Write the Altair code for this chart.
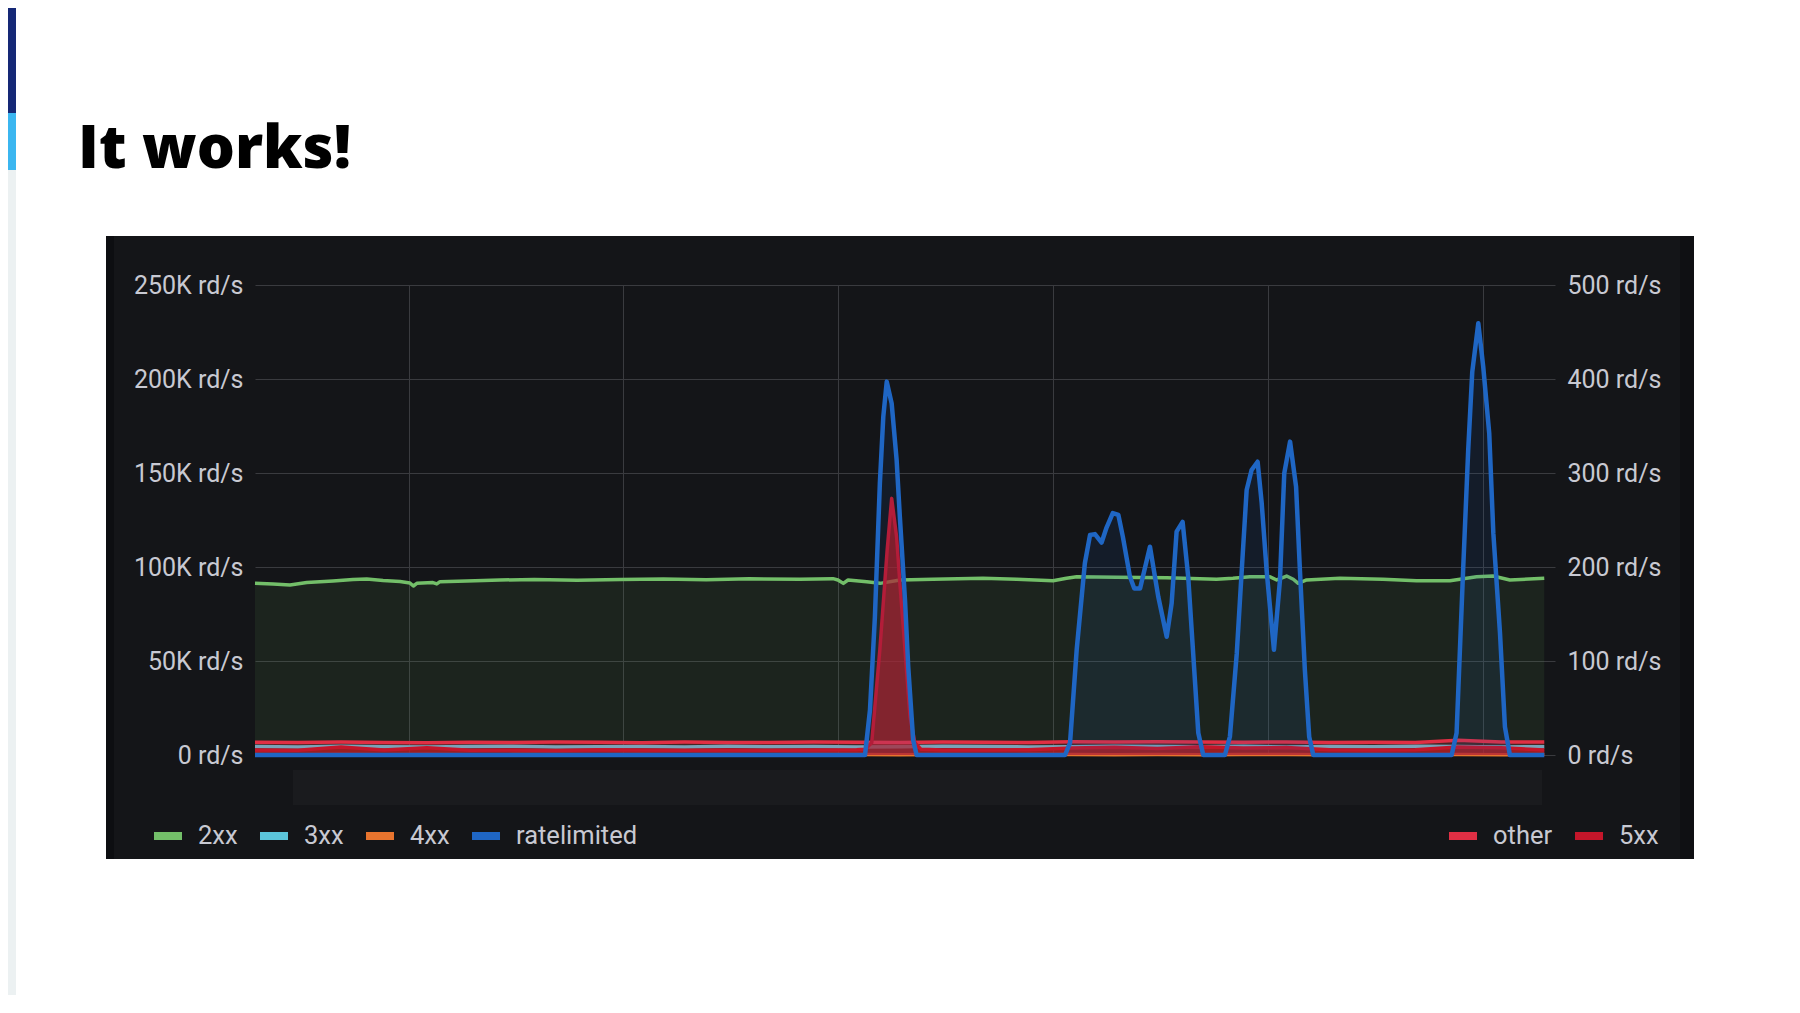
import altair as alt
import pandas as pd

# ---------------- data (time in minutes, left values in K rd/s, right values in rd/s) ----------------
green_t = [0, 0.84, 1.63, 2.41, 3.63, 4.56, 5.20, 5.96, 6.75, 7.21, 7.37, 7.53, 8.28, 8.46, 8.61, 9.85,
           11.40, 13.0, 15.0, 17.0, 19.0, 21.0, 23.0, 25.36, 26.90, 27.13, 27.38, 27.60, 28.47, 29.09,
           30.02, 31.55, 33.88, 35.45, 37.14, 37.77, 38.24, 40.10, 42.43, 44.75, 45.51, 46.30, 47.24,
           47.55, 48.01, 48.32, 48.55, 48.94, 50.49, 52.49, 54.06, 55.61, 56.08, 56.85, 57.62, 58.40, 60.0]
green_v = [91.4, 91.0, 90.4, 91.7, 92.6, 93.4, 93.6, 92.8, 92.3, 91.5, 89.9, 91.3, 91.7, 91.0, 92.2, 92.6,
           93.1, 93.3, 93.0, 93.4, 93.6, 93.2, 93.7, 93.5, 93.8, 93.1, 91.3, 93.1, 92.2, 91.3,
           93.1, 93.5, 94.0, 93.5, 92.7, 94.0, 94.8, 94.5, 94.3, 93.5, 94.0, 94.8, 94.8,
           93.1, 95.2, 93.5, 91.3, 93.1, 94.0, 93.5, 92.7, 92.7, 93.5, 94.8, 95.2, 93.1, 94.0]

base_t = [0, 2, 4, 6, 8, 10, 12, 14, 16, 18, 20, 22, 24, 26, 28, 30, 32, 34, 36, 38, 40, 42, 44, 46, 48,
          50, 52, 54, 56, 58, 60]
v_3xx = [4.5, 4.3, 4.6, 4.4, 4.2, 4.5, 4.6, 4.3, 4.4, 4.5, 4.3, 4.6, 4.4, 4.5, 4.2, 4.4, 4.6, 4.5, 4.3, 4.4,
         4.7, 4.5, 4.4, 4.6, 4.3, 4.5, 4.4, 4.6, 4.5, 4.3, 4.4]
v_4xx = [0.2, 0.1, 0.2, 0.1, 0.2, 0.1, 0.2, 0.2, 0.1, 0.2, 0.1, 0.2, 0.1, 0.2, 0.2, 0.1, 0.2, 0.1, 0.2, 0.2,
         0.1, 0.2, 0.1, 0.2, 0.2, 0.1, 0.2, 0.1, 0.2, 0.1, 0.2]
v_other = [13.5, 13.2, 13.8, 13.4, 12.9, 13.6, 13.3, 13.9, 13.5, 13.1, 13.7, 13.4, 13.2, 13.8, 13.6, 13.3,
           13.9, 13.5, 13.4, 14.0, 13.7, 14.2, 13.8, 13.5, 13.9, 13.3, 13.6, 13.4, 15.8, 13.7, 13.9]

t_5xx = [0, 2, 4, 6, 8, 10, 12, 14, 16, 18, 20, 22, 24, 26, 28, 28.4, 28.7, 29.08, 29.42, 29.63, 29.86,
         30.01, 30.25, 30.48, 30.71, 31.0, 32, 34, 36, 38, 40, 42, 44, 46, 48, 50, 52, 54, 56, 58, 60]
v_5xx = [5.2, 5.0, 8.5, 5.4, 7.8, 5.1, 5.3, 4.9, 5.6, 5.2, 5.0, 5.4, 5.1, 5.3, 5.5, 6.0, 13, 112, 218, 273,
         232, 183, 112, 41, 13, 6.0, 5.4, 5.2, 5.6, 7.5, 8.2, 7.0, 8.8, 7.4, 8.0, 5.6, 5.3, 5.5, 8.4, 7.6, 5.4]

rl_t = [0, 28.39, 28.62, 28.85, 29.08, 29.24, 29.40, 29.63, 29.86, 30.01, 30.25, 30.40, 30.63, 30.79,
        37.70, 37.93, 38.24, 38.62, 38.86, 39.09, 39.40, 39.63, 39.92, 40.18, 40.39, 40.72, 40.92, 41.19,
        41.65, 42.04, 42.43, 42.66, 42.89, 43.17, 43.43, 43.65, 43.90, 44.13, 45.14, 45.37, 45.69, 45.92,
        46.15, 46.38, 46.66, 46.85, 47.08, 47.42, 47.70, 47.90, 48.17, 48.45, 48.63, 48.86, 49.06, 49.25,
        55.69, 55.92, 56.23, 56.46, 56.65, 56.93, 57.16, 57.44, 57.63, 57.94, 58.17, 58.40, 60]
rl_v = [0, 0, 23.9, 73.6, 144.5, 180, 198.6, 187, 157, 126.8, 82.4, 47, 8, 0,
        0, 6.4, 56, 102, 117, 117.5, 113, 121, 128.7, 127.7, 116, 94.8, 88.6, 88.6,
        110.8, 84, 62.9, 80.8, 118.8, 124, 94.8, 56, 11.7, 0, 0, 9.7, 54, 98,
        141, 151.6, 156, 134, 98, 56, 93, 149.8, 166.7, 142.7, 98, 45, 9.7, 0,
        0, 11.7, 100, 162, 203.9, 229.6, 206.5, 171, 118, 64.9, 15, 0, 0]

left_series = ["2xx", "3xx", "4xx", "ratelimited"]
left_colors = ["#73bf69", "#5bc5da", "#e8742e", "#1f66c4"]
right_series = ["other", "5xx"]
right_colors = ["#e02f44", "#c4162a"]

left_ticks = [0, 50, 100, 150, 200, 250]
right_ticks = [0, 100, 200, 300, 400, 500]
x_grid = [7.15, 17.12, 27.13, 37.14, 47.15, 57.16]

# ---------------- frames ----------------
df_green = pd.DataFrame({"t": green_t, "v": green_v, "series": "2xx"})
df_left = pd.concat([
    pd.DataFrame({"t": base_t, "v": v_4xx, "series": "4xx"}),
    pd.DataFrame({"t": base_t, "v": v_3xx, "series": "3xx"}),
    df_green,
])
df_other = pd.DataFrame({"t": base_t, "v": v_other, "series": "other"})
df_5xx = pd.DataFrame({"t": t_5xx, "v": v_5xx, "series": "5xx"})
df_right = pd.concat([df_other, df_5xx])
df_rl = pd.DataFrame({"t": rl_t, "v": rl_v})

# ---------------- styling ----------------
BG = "#141518"
GRID = "#3a3b3f"
TXT = "#c8c9d2"
FONT = "Roboto"
W, H = 1300, 470

x_enc = alt.X("t:Q", scale=alt.Scale(domain=[0, 60.5], nice=False, zero=False),
              axis=alt.Axis(values=x_grid, grid=True, gridColor=GRID, gridWidth=1, labels=False,
                            ticks=False, domain=False, title=None))


def y_left(axis=True):
    ax = alt.Axis(orient="left", values=left_ticks, grid=True, gridColor=GRID, gridWidth=1,
                  domain=False, ticks=False, title=None, labelFont=FONT, labelFontSize=25,
                  labelColor=TXT, labelPadding=12,
                  labelExpr="datum.value == 0 ? '0 rd/s' : datum.value + 'K rd/s'") if axis else None
    return alt.Y("v:Q", scale=alt.Scale(domain=[0, 250], nice=False, zero=True), axis=ax)


y_right = alt.Y("v:Q", scale=alt.Scale(domain=[0, 500], nice=False, zero=True),
                axis=alt.Axis(orient="right", values=right_ticks, grid=False, domain=False, ticks=False,
                              title=None, labelFont=FONT, labelFontSize=25, labelColor=TXT,
                              labelPadding=12, labelExpr="datum.value + ' rd/s'"))

SWATCH = "M-1,0L1,0"


def legend(x):
    return alt.Legend(orient="none", legendX=x, legendY=533, direction="horizontal", title=None,
                      symbolType=SWATCH, symbolSize=784, symbolStrokeWidth=8, symbolOpacity=1,
                      labelFont=FONT, labelFontSize=25.5, labelColor=TXT, labelOffset=12,
                      columnPadding=6, padding=0)


left_color = alt.Color("series:N", scale=alt.Scale(domain=left_series, range=left_colors),
                       legend=legend(-105))
right_color = alt.Color("series:N", scale=alt.Scale(domain=right_series, range=right_colors),
                        legend=legend(1190))

# ---------------- data layers ----------------
green_area = alt.Chart(df_green).mark_area(color="#73bf69", opacity=0.09).encode(x=x_enc, y=y_left())
left_lines = alt.Chart(df_left).mark_line(strokeWidth=3.5, strokeJoin="round").encode(
    x=x_enc, y=y_left(), color=left_color, detail="series:N")
left_group = alt.layer(green_area, left_lines)

other_area = alt.Chart(df_other).mark_area(color="#e02f44", opacity=0.22).encode(x=x_enc, y=y_right)
fxx_area = alt.Chart(df_5xx).mark_area(color="#c41a1f", opacity=0.68).encode(x=x_enc, y=y_right)
right_lines = alt.Chart(df_right).mark_line(strokeWidth=3.5, strokeJoin="round").encode(
    x=x_enc, y=y_right, color=right_color)
right_group = alt.layer(other_area, fxx_area, right_lines)

rl_area = alt.Chart(df_rl).mark_area(color="#1f66c4", opacity=0.1).encode(x=x_enc, y=y_left(False))
rl_line = alt.Chart(df_rl).mark_line(color="#1f66c4", strokeWidth=4.5, strokeJoin="round").encode(
    x=x_enc, y=y_left(False))
rl_group = alt.layer(rl_area, rl_line)

# ---------------- decorations (slide frame around the dashboard panel) ----------------
one = pd.DataFrame({"k": [0]})


def box(x, x2, y, y2, color):
    return alt.Chart(one).mark_rect(color=color).encode(
        x=alt.value(x), x2=alt.value(x2), y=alt.value(y), y2=alt.value(y2))


decor_under = [
    box(38, 1287, 485, 520, "#1a1b1e"),          # faint strip below plot
    box(-149, -141, -49, 574, "#0d0e11"),        # panel left edge
    box(1425, 1439, -49, 574, "#0f1013"),        # panel right edge
]
decor_over = [
    box(-300, 1700, -300, -49, "white"),
    box(-300, 1700, 574, 900, "white"),
    box(-300, -149, -49, 574, "white"),
    box(1439, 1700, -49, 574, "white"),
    box(-300, -239, -300, -172, "#152876"),
    box(-300, -239, -172, -115, "#3bb6f0"),
    box(-300, -239, -115, 900, "#ecf1f2"),
]
title = alt.Chart(one).mark_text(text="It works!", font="Open Sans", fontSize=60, fontWeight=800,
                                 align="left", baseline="alphabetic", color="black").encode(
    x=alt.value(-177), y=alt.value(-117))

chart = alt.layer(
    *decor_under, left_group, right_group, rl_group, *decor_over, title
).resolve_scale(y="independent", color="independent").properties(
    width=W, height=H,
    autosize=alt.AutoSizeParams(type="none"),
    padding={"left": 247, "top": 277, "right": 230, "bottom": 240},
    background=BG,
).configure_view(stroke=None)

chart.save("out.html", embed_options={"renderer": "svg", "actions": False})
